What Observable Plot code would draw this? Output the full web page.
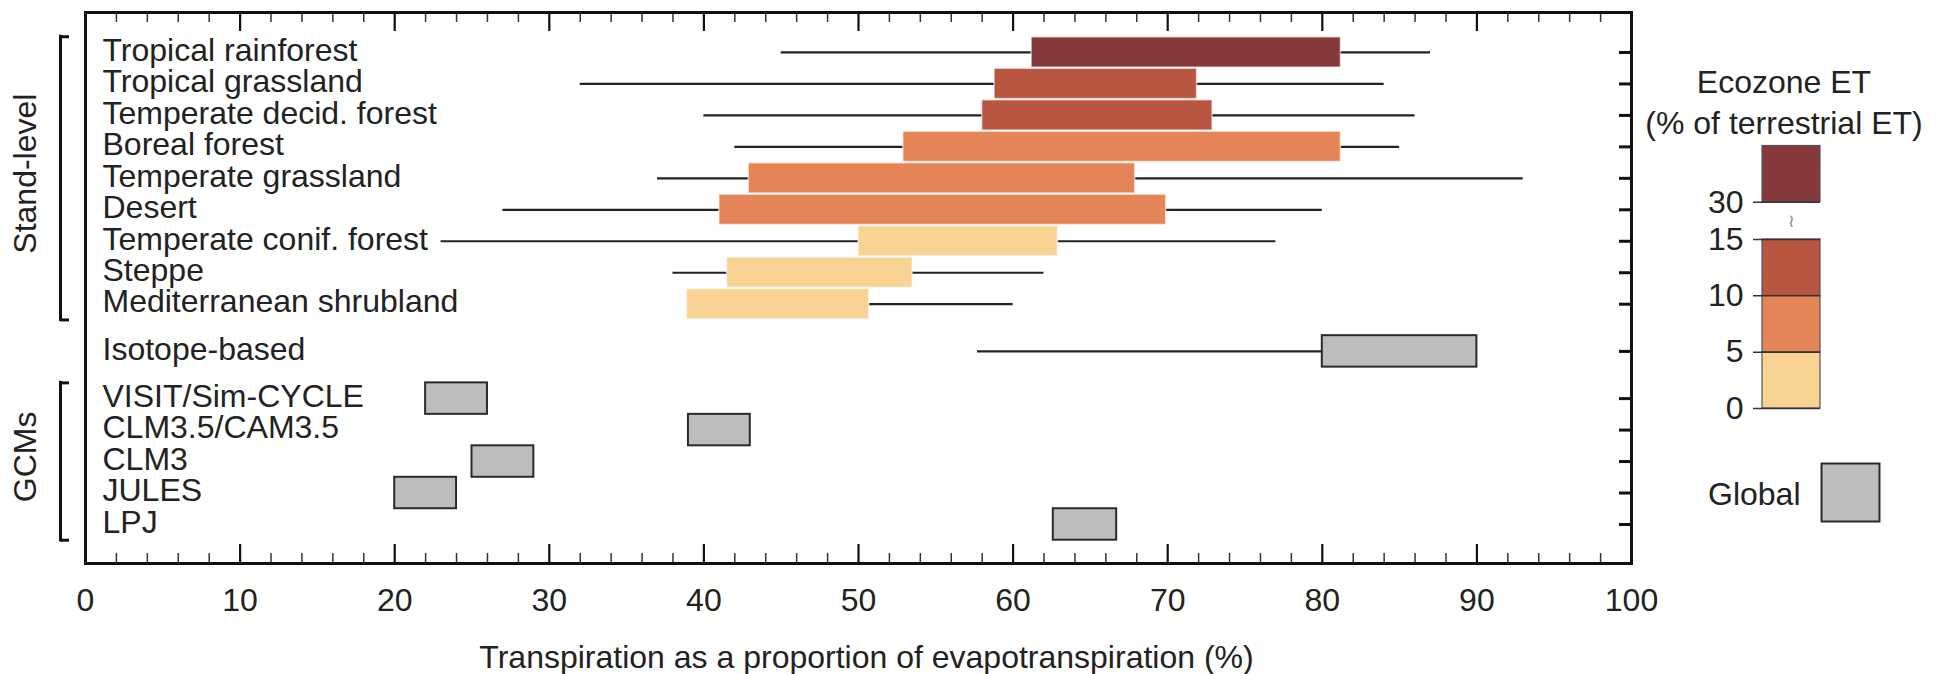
<!DOCTYPE html>
<html><head><meta charset="utf-8">
<script src="https://cdn.jsdelivr.net/npm/d3@7"></script>
<script src="https://cdn.jsdelivr.net/npm/@observablehq/plot@0.6"></script>
<style>
body{margin:0;background:#fff;}
#wrap{position:relative;width:1952px;height:674px;font-family:"Liberation Sans",Arial,sans-serif;}
#wrap svg{position:absolute;top:0;}
</style></head><body><div id="wrap"></div>
<script>
// ---- data ----
const standNames = ["Tropical rainforest","Tropical grassland","Temperate decid. forest","Boreal forest","Temperate grassland","Desert","Temperate conif. forest","Steppe","Mediterranean shrubland"];
const standWhiskerLo = [45, 32, 40, 42, 37, 27, 23, 38, 38.9];
const standBoxLo     = [61.2, 58.8, 58, 52.9, 42.9, 41, 50, 41.5, 38.9];
const standBoxHi     = [81.2, 71.9, 72.9, 81.2, 67.9, 69.9, 62.9, 53.5, 50.7];
const standWhiskerHi = [87, 84, 86, 85, 93, 80, 77, 62, 60];
const standETClass   = [">30","10–15","10–15","5–10","5–10","5–10","0–5","0–5","0–5"];

const isotopeName = "Isotope-based";
const isotopeWhiskerLo = 57.7;
const isotopeBoxLo = 80;
const isotopeBoxHi = 90;

const gcmNames = ["VISIT/Sim-CYCLE","CLM3.5/CAM3.5","CLM3","JULES","LPJ"];
const gcmLo = [22, 39, 25, 20, 62.6];
const gcmHi = [26, 43, 29, 24, 66.7];

const groupLabels = ["Stand-level","GCMs"];
const xTicks = [0,10,20,30,40,50,60,70,80,90,100];
const xMinorTicks = d3.range(0, 101, 2).filter(v => v % 10 !== 0);
const axisTitle = "Transpiration as a proportion of evapotranspiration (%)";

const etClasses = ["0–5","5–10","10–15",">30"];
const etColors  = ["#F9D394","#E58557","#B85642","#86393A"];
const etBinLo = [0, 5, 10, 30];
const etBinHi = [5, 10, 15, 35];
const etLegendTicks = [0, 5, 10, 15, 30];
const legendTitle = "Ecozone ET\n(% of terrestrial ET)";
const globalLabel = "Global";

// ---- layout ----
const W = 1952, H = 674, mL = 85, mR = 321, mT = 12, mB = 111;
const frameW = W - mL - mR, frameH = H - mT - mB;
const font = '"Liberation Sans", Arial, sans-serif';

const nS = standNames.length;
const stand = standNames.map((name, i) => ({name, pos: i, wlo: standWhiskerLo[i], lo: standBoxLo[i], hi: standBoxHi[i], whi: standWhiskerHi[i], cls: standETClass[i]}));
const iso = [{name: isotopeName, pos: nS + 0.5, wlo: isotopeWhiskerLo, lo: isotopeBoxLo, hi: isotopeBoxHi, whi: isotopeBoxHi}];
const gcm = gcmNames.map((name, i) => ({name, pos: nS + 2 + i, lo: gcmLo[i], hi: gcmHi[i]}));
const rows = [...stand, ...iso, ...gcm];
const groups = [
  {label: groupLabels[0], a: stand[0].pos - 0.5, b: stand[nS - 1].pos + 0.5},
  {label: groupLabels[1], a: gcm[0].pos - 0.5, b: gcm[gcm.length - 1].pos + 0.5}
];
const bracketEnds = groups.flatMap(g => [g.a, g.b]);

const main = Plot.plot({
  width: W, height: H, marginLeft: mL, marginRight: mR, marginTop: mT, marginBottom: mB,
  style: {fontFamily: font, fontSize: "32px", color: "#222", background: "white", overflow: "visible"},
  x: {domain: [0, 100], ticks: xTicks, tickSize: 0, tickPadding: 25, label: null},
  y: {domain: [-1.27, 16.24], reverse: true, axis: null},
  color: {domain: etClasses, range: etColors},
  marks: [
    Plot.ruleY([...stand, ...iso], {y: "pos", x1: "wlo", x2: "whi", stroke: "#222", strokeWidth: 2.2}),
    Plot.rect(stand, {x1: "lo", x2: "hi", y1: d => d.pos - 0.48, y2: d => d.pos + 0.48, fill: "cls", stroke: "white", strokeOpacity: 0.55, strokeWidth: 1.5}),
    Plot.rect([...iso, ...gcm], {x1: "lo", x2: "hi", y1: d => d.pos - 0.5, y2: d => d.pos + 0.5, fill: "#BDBDBD", stroke: "#2a2a2a", strokeWidth: 2}),
    Plot.text(rows, {y: "pos", text: "name", frameAnchor: "left", textAnchor: "start", dx: 17, dy: -2, fontSize: 32, fill: "#222"}),
    Plot.text(groups, {y: d => (d.a + d.b) / 2 - 0.15, text: "label", frameAnchor: "left", dx: -60, rotate: -90, textAnchor: "middle", fontSize: 32, fill: "#222"}),
    Plot.ruleX(groups, {x: () => 0, y1: "a", y2: "b", dx: -25, stroke: "#111", strokeWidth: 3, strokeLinecap: "square"}),
    Plot.tickY(bracketEnds, {y: d => d, insetRight: frameW - 9, dx: -25, stroke: "#111", strokeWidth: 3}),
    Plot.tickY(rows, {y: "pos", insetLeft: frameW - 12, stroke: "#111", strokeWidth: 3}),
    Plot.tickX(xTicks, {x: d => d, insetBottom: frameH - 19, stroke: "#111", strokeWidth: 2.2}),
    Plot.tickX(xMinorTicks, {x: d => d, insetBottom: frameH - 10, stroke: "#333", strokeWidth: 1.5}),
    Plot.tickX(xTicks, {x: d => d, insetTop: frameH - 19, stroke: "#111", strokeWidth: 2.2}),
    Plot.tickX(xMinorTicks, {x: d => d, insetTop: frameH - 10, stroke: "#333", strokeWidth: 1.5}),
    Plot.frame({stroke: "#111", strokeWidth: 3}),
    Plot.text([axisTitle], {frameAnchor: "bottom", lineAnchor: "bottom", dy: 104, dx: 8, fontSize: 32, fill: "#222"})
  ]
});
main.style.left = "0px";

// legend: broken scale between 15 and 30
const breakGap = 3.3;
const disp = v => v >= etBinLo[3] ? v - etBinLo[3] + etBinHi[2] + breakGap : v;
const bins = etClasses.map((cls, i) => ({cls, lo: etBinLo[i], hi: etBinHi[i]}));
const legend = Plot.plot({
  width: mR, height: H, margin: 0,
  style: {fontFamily: font, fontSize: "32px", color: "#222", background: "transparent", overflow: "visible"},
  x: {domain: [0, 1], range: [131, 189], axis: null},
  y: {domain: [0, 15], range: [408, 239], axis: null},
  color: {domain: etClasses, range: etColors},
  marks: [
    Plot.rect(bins, {x1: 0, x2: 1, y1: d => disp(d.lo), y2: d => disp(d.hi), fill: "cls", stroke: "#555", strokeWidth: 1.2}),
    Plot.ruleY(etLegendTicks, {y: d => disp(d), x1: 0, x2: 1, insetLeft: -9, stroke: "#333", strokeWidth: 1.5}),
    Plot.text(etLegendTicks, {x: 0, y: d => disp(d), text: d => String(d), dx: -19, textAnchor: "end", fontSize: 32, fill: "#222"}),
    Plot.text(["≀"], {x: 0.5, y: (etBinHi[2] + disp(etBinLo[3])) / 2, fontSize: 18, fill: "#888"}),
    Plot.text([legendTitle], {frameAnchor: "top", lineAnchor: "top", dy: 63, dx: -8, lineHeight: 1.28, fontSize: 32, fill: "#222"}),
    Plot.text([globalLabel], {frameAnchor: "top-left", textAnchor: "end", lineAnchor: "bottom", dx: 169, dy: 504, fontSize: 32, fill: "#222"}),
    Plot.dot([globalLabel], {frameAnchor: "top-left", dx: 219, dy: 492, symbol: "square", r: 32.7, fill: "#BDBDBD", stroke: "#2a2a2a", strokeWidth: 2})
  ]
});
legend.style.left = (W - mR) + "px";

const wrap = document.getElementById("wrap");
wrap.appendChild(main);
wrap.appendChild(legend);
</script></body></html>
